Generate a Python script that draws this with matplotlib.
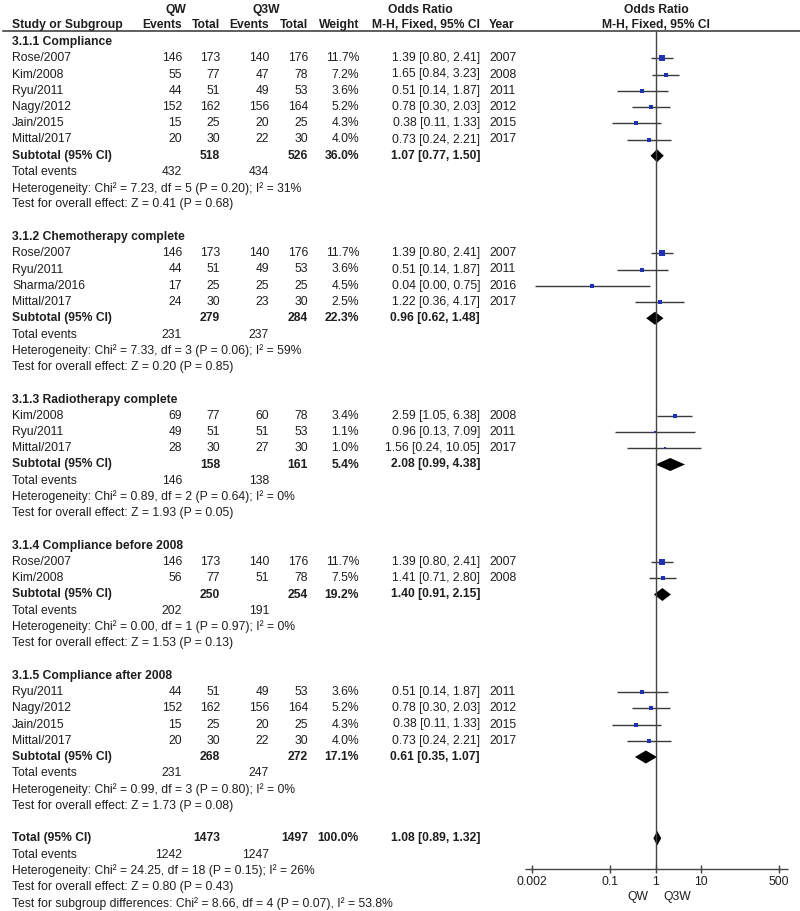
import matplotlib.pyplot as plt
import matplotlib.transforms as mtransforms

plt.rcParams['font.family'] = ['Liberation Sans', 'DejaVu Sans']

# ---- data ----
group_titles = ["3.1.1 Compliance", "3.1.2 Chemotherapy complete", "3.1.3 Radiotherapy complete",
                "3.1.4 Compliance before 2008", "3.1.5 Compliance after 2008"]

study_names = [
    ["Rose/2007", "Kim/2008", "Ryu/2011", "Nagy/2012", "Jain/2015", "Mittal/2017"],
    ["Rose/2007", "Ryu/2011", "Sharma/2016", "Mittal/2017"],
    ["Kim/2008", "Ryu/2011", "Mittal/2017"],
    ["Rose/2007", "Kim/2008"],
    ["Ryu/2011", "Nagy/2012", "Jain/2015", "Mittal/2017"],
]
qw_events = [[146, 55, 44, 152, 15, 20], [146, 44, 17, 24], [69, 49, 28], [146, 56], [44, 152, 15, 20]]
qw_total = [[173, 77, 51, 162, 25, 30], [173, 51, 25, 30], [77, 51, 30], [173, 77], [51, 162, 25, 30]]
q3w_events = [[140, 47, 49, 156, 20, 22], [140, 49, 25, 23], [60, 51, 27], [140, 51], [49, 156, 20, 22]]
q3w_total = [[176, 78, 53, 164, 25, 30], [176, 53, 25, 30], [78, 53, 30], [176, 78], [53, 164, 25, 30]]
weights = [[11.7, 7.2, 3.6, 5.2, 4.3, 4.0], [11.7, 3.6, 4.5, 2.5], [3.4, 1.1, 1.0], [11.7, 7.5], [3.6, 5.2, 4.3, 4.0]]
odds = [[1.39, 1.65, 0.51, 0.78, 0.38, 0.73], [1.39, 0.51, 0.04, 1.22], [2.59, 0.96, 1.56], [1.39, 1.41],
        [0.51, 0.78, 0.38, 0.73]]
ci_low = [[0.80, 0.84, 0.14, 0.30, 0.11, 0.24], [0.80, 0.14, 0.0023, 0.36], [1.05, 0.13, 0.24], [0.80, 0.71],
          [0.14, 0.30, 0.11, 0.24]]
ci_high = [[2.41, 3.23, 1.87, 2.03, 1.33, 2.21], [2.41, 1.87, 0.75, 4.17], [6.38, 7.09, 10.05], [2.41, 2.80],
           [1.87, 2.03, 1.33, 2.21]]
years = [[2007, 2008, 2011, 2012, 2015, 2017], [2007, 2011, 2016, 2017], [2008, 2011, 2017], [2007, 2008],
         [2011, 2012, 2015, 2017]]

sub_qw_total = [518, 279, 158, 250, 268]
sub_q3w_total = [526, 284, 161, 254, 272]
sub_weight = [36.0, 22.3, 5.4, 19.2, 17.1]
sub_or = [1.07, 0.96, 2.08, 1.40, 0.61]
sub_low = [0.77, 0.62, 0.99, 0.91, 0.35]
sub_high = [1.50, 1.48, 4.38, 2.15, 1.07]
sub_qw_events = [432, 231, 146, 202, 231]
sub_q3w_events = [434, 237, 138, 191, 247]
sub_het = ["Chi² = 7.23, df = 5 (P = 0.20); I² = 31%", "Chi² = 7.33, df = 3 (P = 0.06); I² = 59%",
           "Chi² = 0.89, df = 2 (P = 0.64); I² = 0%", "Chi² = 0.00, df = 1 (P = 0.97); I² = 0%",
           "Chi² = 0.99, df = 3 (P = 0.80); I² = 0%"]
sub_test = ["Z = 0.41 (P = 0.68)", "Z = 0.20 (P = 0.85)", "Z = 1.93 (P = 0.05)", "Z = 1.53 (P = 0.13)",
            "Z = 1.73 (P = 0.08)"]

total_n = [1473, 1497]
total_ev = [1242, 1247]
total_or = [1.08, 0.89, 1.32]
total_het = "Chi² = 24.25, df = 18 (P = 0.15); I² = 26%"
total_test = "Z = 0.80 (P = 0.43)"
subgroup_diff = "Chi² = 8.66, df = 4 (P = 0.07), I² = 53.8%"

axis_ticks = [0.002, 0.1, 1, 10, 500]
axis_labels = ["0.002", "0.1", "1", "10", "500"]

# ---- layout (pixels) ----
W, H = 800, 911
ROW0, PITCH = 42, 16.25
X1, DEC = 655.7, 45.7
FS = 8.7
TXT = "#1e1e1e"
BLUE = "#1f33b0"

fig = plt.figure(figsize=(W / 100, H / 100), dpi=100)
ax = fig.add_axes([0, 0, 1, 1])
ax.set_xscale('log')
ax.set_xlim(10 ** (-X1 / DEC), 10 ** ((W - X1) / DEC))
ax.set_ylim((H - ROW0) / PITCH, -ROW0 / PITCH)
ax.axis('off')
tr = mtransforms.blended_transform_factory(fig.transFigure, ax.transData)


def put(xpx, row, s, ha='left', bold=False):
    ax.text(xpx / W, row, s, transform=tr, ha=ha, va='center', fontsize=FS,
            fontweight='bold' if bold else 'normal', color=TXT)


def fmt_or(e, lo, hi):
    return f"{e:.2f} [{lo:.2f}, {hi:.2f}]"


def diamond(row, e, lo, hi, h=0.4):
    ax.fill([lo, e, hi, e], [row, row - h, row, row + h], color='black', lw=0)


# columns
C_NAME, C_EV1, C_TOT1, C_EV2, C_TOT2, C_W, C_OR, C_YR = 12, 182, 220, 269, 308, 359, 480, 489

# header
put(176, -1.97, "QW", 'center', True)
put(266, -1.97, "Q3W", 'center', True)
put(420, -1.97, "Odds Ratio", 'center', True)
put(656, -1.97, "Odds Ratio", 'center', True)
put(C_NAME, -1.05, "Study or Subgroup", bold=True)
put(C_EV1, -1.05, "Events", 'right', True)
put(C_TOT1, -1.05, "Total", 'right', True)
put(C_EV2, -1.05, "Events", 'right', True)
put(C_TOT2, -1.05, "Total", 'right', True)
put(C_W, -1.05, "Weight", 'right', True)
put(C_OR, -1.05, "M-H, Fixed, 95% CI", 'right', True)
put(C_YR, -1.05, "Year", bold=True)
put(656, -1.05, "M-H, Fixed, 95% CI", 'center', True)
ax.plot([3 / W, 1], [-0.68, -0.68], transform=tr, color="#333333", lw=1.1)

row = 0
for g, title in enumerate(group_titles):
    put(C_NAME, row, title, bold=True)
    row += 1
    for i, name in enumerate(study_names[g]):
        put(C_NAME, row, name)
        put(C_EV1, row, str(qw_events[g][i]), 'right')
        put(C_TOT1, row, str(qw_total[g][i]), 'right')
        put(C_EV2, row, str(q3w_events[g][i]), 'right')
        put(C_TOT2, row, str(q3w_total[g][i]), 'right')
        put(C_W, row, f"{weights[g][i]:.1f}%", 'right')
        put(C_OR, row, fmt_or(odds[g][i], ci_low[g][i], ci_high[g][i]), 'right')
        put(C_YR, row, str(years[g][i]))
        ax.hlines(row, ci_low[g][i], ci_high[g][i], color="#3a3a3a", lw=1.0)
        ax.plot(odds[g][i], row, marker='s', ms=2.0 + 0.14 * weights[g][i], color=BLUE, mew=0)
        row += 1
    put(C_NAME, row, "Subtotal (95% CI)", bold=True)
    put(C_TOT1, row, str(sub_qw_total[g]), 'right', True)
    put(C_TOT2, row, str(sub_q3w_total[g]), 'right', True)
    put(C_W, row, f"{sub_weight[g]:.1f}%", 'right', True)
    put(C_OR, row, fmt_or(sub_or[g], sub_low[g], sub_high[g]), 'right', True)
    diamond(row, sub_or[g], sub_low[g], sub_high[g])
    row += 1
    put(C_NAME, row, "Total events")
    put(C_EV1, row, str(sub_qw_events[g]), 'right')
    put(C_EV2, row, str(sub_q3w_events[g]), 'right')
    row += 1
    put(C_NAME, row, "Heterogeneity: " + sub_het[g])
    row += 1
    put(C_NAME, row, "Test for overall effect: " + sub_test[g])
    row += 2

put(C_NAME, row, "Total (95% CI)", bold=True)
put(C_TOT1, row, str(total_n[0]), 'right', True)
put(C_TOT2, row, str(total_n[1]), 'right', True)
put(C_W, row, "100.0%", 'right', True)
put(C_OR, row, fmt_or(*total_or), 'right', True)
diamond(row, total_or[0], total_or[1], total_or[2], h=0.45)
put(C_NAME, row + 1, "Total events")
put(C_EV1, row + 1, str(total_ev[0]), 'right')
put(C_EV2, row + 1, str(total_ev[1]), 'right')
put(C_NAME, row + 2, "Heterogeneity: " + total_het)
put(C_NAME, row + 3, "Test for overall effect: " + total_test)
put(C_NAME, row + 4, "Test for subgroup differences: " + subgroup_diff)

# forest axis
axis_row = (869 - ROW0) / PITCH
ax.vlines(1, -0.68, axis_row, color="#444444", lw=1.0)
ax.hlines(axis_row, 10 ** (-2.87), 10 ** 2.89, color="#444444", lw=1.0)
ax.vlines(axis_ticks, axis_row - 0.25, axis_row + 0.25, color="#444444", lw=1.0)
for t, lab in zip(axis_ticks, axis_labels):
    ax.text(t, axis_row + 0.8, lab, ha='center', va='center', fontsize=FS, color=TXT)
put(648, axis_row + 1.75, "QW", 'right')
put(663, axis_row + 1.75, "Q3W", 'left')

fig.savefig("out.png", dpi=100, facecolor='white')
